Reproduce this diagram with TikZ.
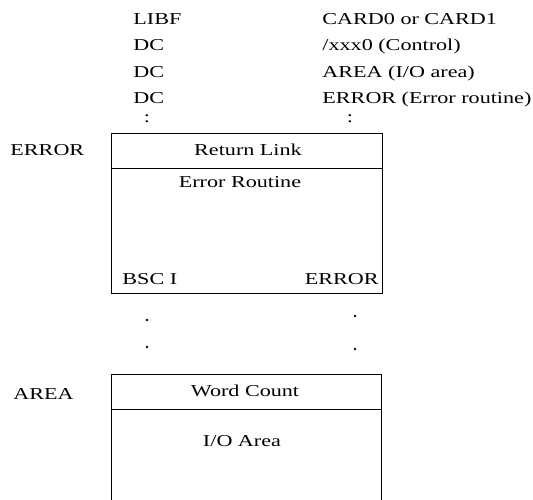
\documentclass[tikz,border=0pt]{standalone}
\usepackage{fontspec}
\setmainfont[FakeStretch=1.33]{Liberation Serif}
\usetikzlibrary{positioning}

\begin{document}
\begin{tikzpicture}[x=0.3mm,y=-0.3mm,line width=0.8pt,
  font=\fontsize{14.2}{17}\selectfont,
  txt/.style={inner sep=0pt,anchor=base west},
  dotmark/.style={circle,fill,inner sep=0pt,minimum size=2.2pt}]
  \useasboundingbox (0,0) rectangle (533,500);
  % calling sequence
  \foreach \op/\arg [count=\i] in {LIBF/CARD0 or CARD1,DC/{/xxx0 (Control)},DC/{AREA (I/O area)},DC/{ERROR (Error routine)}}{
    \node[txt] (op\i) at (133,-2+26.5*\i) {\op};
    \node[txt] (arg\i) at (322,-2+26.5*\i) {\arg};
  }
  \node (cl) at (147,119) {:};
  \node (cr) at (350,119) {:};
  % error routine
  \draw (111,133) rectangle (382,293);
  \draw (111,168) -- (382,168);
  \node[txt] (errlbl) at (10,156) {ERROR};
  \node (rl) at (248,150) {Return Link};
  \node (er) at (240,182) {Error Routine};
  \node[txt] (bsc) at (122,285) {BSC I};
  \node[txt,anchor=base east] (erb) at (379,285) {ERROR};
  \foreach \y in {320,347}{\node[dotmark] at (147,\y) {};}
  \foreach \y in {316,349}{\node[dotmark] at (355,\y) {};}
  % I/O area
  \draw (111,500) |- (381,374) -- (381,500);
  \draw (111,409) -- (381,409);
  \node[txt] (arealbl) at (13,400) {AREA};
  \node (wc) at (245,391) {Word Count};
  \node (io) at (242,441) {I/O Area};
\end{tikzpicture}
\end{document}
